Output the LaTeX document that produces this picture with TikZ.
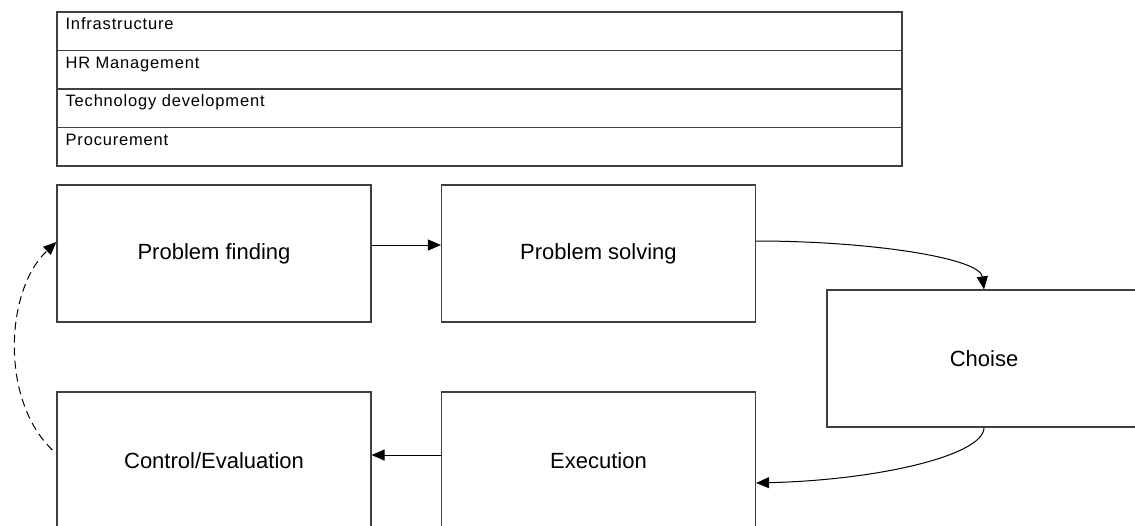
\documentclass[tikz,border=0pt]{standalone}
\usepackage{fontspec}
\setmainfont{Liberation Sans}
\newfontfamily\rowfont[LetterSpace=5]{Liberation Sans}
\usetikzlibrary{arrows.meta}

\tikzset{
  boxline/.style={draw=black!75, line width=1.2pt},
  stackrow/.style={boxline, minimum width=845pt, minimum height=38.5pt, inner sep=0pt},
  rowtext/.style={anchor=base west, inner sep=0pt, font=\rowfont\fontsize{16.5}{18}\selectfont},
  stagebox/.style={boxline, minimum width=314pt, minimum height=137pt, inner sep=0pt,
    font=\fontsize{22}{26}\selectfont},
  stagetext/.style={inner sep=0pt, font=\fontsize{22}{26}\selectfont},
  flow/.style={draw=black, line width=1pt, -{Triangle[length=13pt,width=11pt]}},
  feedback/.style={flow, dash pattern=on 8pt off 5pt}
}

\begin{document}
\begin{tikzpicture}[x=1pt, y=-1pt]
  \useasboundingbox (0,0) rectangle (1135,525);
  \clip (0,0) rectangle (1135,525);

  % support activities stacked as rows
  \node[stackrow] (r1) at (479.5, 31.25) {};
  \node[stackrow] (r2) at (479.5, 69.75) {};
  \node[stackrow] (r3) at (479.5, 108.25) {};
  \node[stackrow] (r4) at (479.5, 146.75) {};
  \node[rowtext] (t1) at ([xshift=9pt,yshift=-18.5pt]r1.north west) {Infrastructure};
  \node[rowtext] (t2) at ([xshift=9pt,yshift=-18.5pt]r2.north west) {HR Management};
  \node[rowtext] (t3) at ([xshift=9pt,yshift=-18.5pt]r3.north west) {Technology development};
  \node[rowtext] (t4) at ([xshift=9pt,yshift=-18.5pt]r4.north west) {Procurement};

  % process stages
  \node[stagebox] (pf) at (214, 253.5) {Problem finding};
  \node[stagebox] (ps) at (598.5, 253.5) {Problem solving};
  \node[stagebox, minimum width=380pt] (ch) at (1017, 358.5) {};
  \node[stagetext] (cht) at (984, 358.5) {Choise};
  \node[stagebox] (ex) at (598.5, 460.5) {Execution};
  \node[stagebox] (ce) at (214, 460.5) {Control/Evaluation};

  % connectors between the stages
  \coordinate (chin) at (cht |- ch.north);
  \coordinate (chout) at (cht |- ch.south);
  \draw[flow] ([yshift=8.5pt]pf.east) -- ([yshift=8.5pt]ps.west);
  \draw[flow] ([yshift=12.5pt]ps.east) .. controls (870,241) and (980,258) .. (chin);
  \draw[flow] (chout) .. controls (984,455) and (880,480) .. ([yshift=-22.5pt]ex.east);
  \draw[flow] ([yshift=5.5pt]ex.west) -- ([yshift=5.5pt]ce.east);
  \draw[feedback] ([xshift=-4pt,yshift=10.5pt]ce.west) .. controls (0,400) and (5,290) .. ([yshift=11.5pt]pf.west);
\end{tikzpicture}
\end{document}
